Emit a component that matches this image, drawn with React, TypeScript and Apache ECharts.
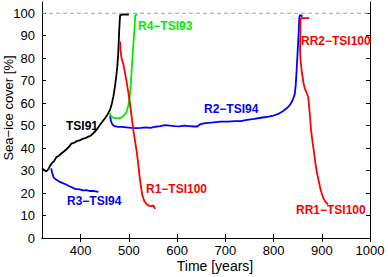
import React, { useEffect, useRef } from "react";
import * as echarts from "echarts";

const xMin = 320;
const xMax = 1000;
const yMin = 0;
const yMax = 105;
const xTickValues = [400, 500, 600, 700, 800, 900, 1000];
const yTickValues = [0, 10, 20, 30, 40, 50, 60, 70, 80, 90, 100];
const fullCover = 100;

const tsi91 = [
  [320, 31], [324, 30.4], [329, 29.6], [333, 30.6], [337, 32.2], [341, 33.4], [345, 34.2], [350, 36], [355, 36.6],
  [360, 37.6], [366, 38.6], [371, 39.5], [376, 40.6], [381, 42], [387, 42.4], [392, 43.1], [398, 43.4], [404, 44.1],
  [410, 44.4], [416, 45.1], [421, 45.5], [426, 46.6], [431, 47.6], [436, 49], [441, 50.6], [446, 52], [451, 53.4],
  [456, 55], [461, 57], [465, 60], [468, 63], [471, 67], [474, 72], [476, 76], [478, 82], [479, 87], [480, 92],
  [481, 96], [482, 99.2], [490, 99.5], [500, 99.4],
];
const r3Tsi94 = [
  [339, 31], [341, 29], [344, 27], [349, 26], [355, 25.2], [362, 24.5], [370, 23.8], [377, 23], [384, 22.3],
  [391, 21.7], [398, 21.6], [405, 21.2], [412, 21.3], [420, 20.9], [428, 20.9], [437, 20.5],
];
const r2Tsi94 = [
  [461, 54.5], [463, 52], [466, 50.5], [470, 49.8], [476, 49.5], [485, 49.4], [495, 49.2], [505, 49], [515, 48.9],
  [525, 49], [535, 49.2], [545, 49], [555, 49.5], [565, 49.8], [575, 50.2], [585, 50], [595, 49.8], [605, 49.7],
  [615, 50], [625, 49.8], [635, 49.6], [642, 49.6], [648, 50.6], [655, 51], [665, 51.2], [675, 51.4], [690, 51.8],
  [705, 51.8], [720, 52], [732, 52], [745, 52.6], [760, 53], [774, 53.5], [790, 54], [800, 54.5], [810, 55.2],
  [820, 56.5], [828, 57.8], [835, 59.5], [840, 61.5], [844, 64], [846, 68], [848, 75], [850, 83], [852, 91],
  [853.5, 98], [855, 99.2], [858, 99], [860, 98.5],
];
const r4Tsi93 = [
  [460, 55.5], [464, 54], [470, 53.3], [478, 53.3], [484, 53.5], [490, 54.5], [495, 56], [499, 59], [502, 63],
  [504, 68], [506, 75], [508, 82], [510, 88], [512, 94], [513.5, 99.2], [518, 99.4],
];
const r1Tsi100 = [
  [482, 87.5], [483, 83], [485, 80], [489, 77], [492, 73.5], [495, 70], [498, 66], [501, 62], [504, 57], [507, 52],
  [510, 47], [513, 43], [516, 39], [519, 34], [522, 28], [525, 23], [528, 19], [532, 16.5], [537, 15], [542, 14.3],
  [547, 14.2], [551, 14.5], [553, 13.5], [555, 13],
];
const rrTsi100 = [
  [874, 97.8], [856, 97.8], [855.5, 90], [855, 84], [856, 79], [858, 75], [860, 72], [862, 69], [865, 66.5],
  [869, 64.5], [872, 62.5], [874, 58], [876, 53], [878, 47.5], [881, 42.5], [884, 38], [887, 33], [890, 29],
  [893, 26], [896, 23], [899, 20.5], [902, 18.5], [905, 17], [909, 15.8], [913, 15],
];

const labelTexts = [
  { text: "R4\u2212TSI93", x: 138, y: 26, color: "#00ee00" },
  { text: "RR2\u2212TSI100", x: 301, y: 41, color: "#ff0000" },
  { text: "R2\u2212TSI94", x: 204, y: 109, color: "#0000ff" },
  { text: "TSI91", x: 66, y: 126, color: "#000000" },
  { text: "R3\u2212TSI94", x: 67, y: 201, color: "#0000ff" },
  { text: "R1\u2212TSI100", x: 146, y: 189, color: "#ff0000" },
  { text: "RR1\u2212TSI100", x: 296, y: 210, color: "#ff0000" },
];

const FONT = "'Liberation Sans', Arial, Helvetica, sans-serif";

function lineSeries(data: number[][], color: string) {
  return {
    type: "line",
    data,
    showSymbol: false,
    symbol: "none",
    lineStyle: { color, width: 1.8 },
    z: 3,
  };
}

export default function App() {
  const ref = useRef<HTMLDivElement>(null);
  useEffect(() => {
    if (!ref.current) return;
    const chart = echarts.init(ref.current, null, { renderer: "svg" });
    const axisLine = { show: true, lineStyle: { color: "#000", width: 1 } };
    const tickStyle = { show: true, inside: true, length: 4, lineStyle: { color: "#000", width: 1 } };
    const plain = (v: number) => String(v);
    chart.setOption({
      animation: false,
      backgroundColor: "#fff",
      grid: { left: 42, right: 18, top: 2, bottom: 39, containLabel: false },
      xAxis: [
        {
          type: "value", min: xMin, max: xMax, position: "bottom",
          axisLine, splitLine: { show: false },
          axisTick: { ...tickStyle, customValues: xTickValues },
          axisLabel: { customValues: xTickValues, formatter: plain, color: "#000", fontSize: 13, fontFamily: FONT, margin: 6 },
        },
        {
          type: "value", min: xMin, max: xMax, position: "top",
          axisLine, splitLine: { show: false },
          axisTick: { ...tickStyle, customValues: xTickValues },
          axisLabel: { show: false },
        },
      ],
      yAxis: [
        {
          type: "value", min: yMin, max: yMax, position: "left",
          axisLine, splitLine: { show: false },
          axisTick: { ...tickStyle, customValues: yTickValues },
          axisLabel: { customValues: yTickValues, formatter: plain, color: "#000", fontSize: 13, fontFamily: FONT, margin: 7 },
        },
        {
          type: "value", min: yMin, max: yMax, position: "right",
          axisLine, splitLine: { show: false },
          axisTick: { ...tickStyle, customValues: yTickValues },
          axisLabel: { show: false },
        },
      ],
      series: [
        {
          type: "line",
          data: [[xMin, fullCover], [xMax, fullCover]],
          symbol: "none",
          lineStyle: { color: "#a0a0a0", width: 1.2, type: [4, 3] },
          z: 2,
        },
        lineSeries(tsi91, "#000000"),
        lineSeries(r3Tsi94, "#0000ff"),
        lineSeries(r2Tsi94, "#0000ff"),
        lineSeries(r4Tsi93, "#00ee00"),
        lineSeries(r1Tsi100, "#ff0000"),
        lineSeries(rrTsi100, "#ff0000"),
      ],
      graphic: [
        ...labelTexts.map((l) => ({
          type: "text",
          x: l.x,
          y: l.y,
          z: 10,
          style: {
            text: l.text,
            fill: l.color,
            font: `bold 12px ${FONT}`,
            align: "left",
            verticalAlign: "middle",
          },
        })),
        {
          type: "text",
          x: 215,
          y: 266,
          style: {
            text: "Time [years]",
            fill: "#000",
            font: `14px ${FONT}`,
            align: "center",
            verticalAlign: "middle",
          },
        },
        {
          type: "text",
          x: 8,
          y: 108,
          rotation: Math.PI / 2,
          style: {
            text: "Sea\u2212ice cover [%]",
            fill: "#000",
            font: `13px ${FONT}`,
            align: "center",
            verticalAlign: "middle",
          },
        },
      ],
    });
    return () => chart.dispose();
  }, []);
  return (
    <div
      ref={ref}
      style={{ position: "fixed", left: 0, top: 0, width: 388, height: 277, background: "#fff" }}
    />
  );
}
